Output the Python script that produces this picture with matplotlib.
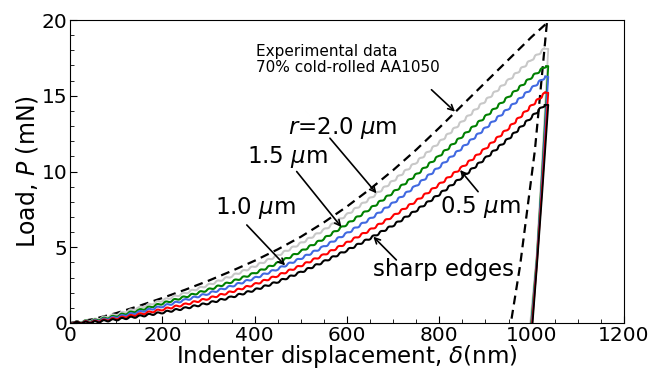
import numpy as np
import matplotlib
matplotlib.use("Agg")
import matplotlib.pyplot as plt
from matplotlib.ticker import MultipleLocator

# loading branch, displacement grid (nm)
delta_load = [0, 50, 100, 150, 200, 250, 300, 350, 400, 450, 500, 550,
              600, 650, 700, 750, 800, 850, 900, 950, 1000]

# load values (mN), last point is the peak
exp_load = [0, 0.25, 0.65, 1.13, 1.65, 2.2, 2.79, 3.43, 4.11, 4.86, 5.69, 6.64,
            7.69, 8.84, 10.09, 11.44, 12.89, 14.39, 15.89, 17.39, 18.89, 19.8]
r20_load = [0, 0.2, 0.57, 1.0, 1.49, 1.98, 2.51, 3.1, 3.74, 4.46, 5.26, 6.14,
            7.15, 8.22, 9.38, 10.61, 11.93, 13.31, 14.68, 16.03, 17.39, 18.1]
r15_load = [0, 0.15, 0.46, 0.84, 1.29, 1.73, 2.2, 2.72, 3.29, 3.96, 4.72, 5.57,
            6.53, 7.54, 8.62, 9.79, 11.04, 12.34, 13.63, 14.93, 16.24, 16.96]
r10_load = [0, 0.11, 0.38, 0.72, 1.1, 1.52, 1.95, 2.43, 2.96, 3.57, 4.26, 5.04,
            5.92, 6.87, 7.92, 9.07, 10.31, 11.58, 12.87, 14.17, 15.49, 16.26]
r05_load = [0, 0.08, 0.29, 0.57, 0.89, 1.23, 1.62, 2.06, 2.55, 3.13, 3.78, 4.5,
            5.3, 6.14, 7.06, 8.06, 9.15, 10.29, 11.52, 12.87, 14.35, 15.2]
sharp_load = [0, 0.05, 0.22, 0.44, 0.69, 0.98, 1.31, 1.71, 2.18, 2.72, 3.35, 4.05,
              4.8, 5.59, 6.45, 7.43, 8.5, 9.64, 10.88, 12.17, 13.6, 14.4]
peak_delta = [1033, 1028, 1031, 1030, 1030, 1028]

# unloading branches
exp_unload_d = [1033, 1007, 975, 955]
exp_unload_p = [19.8, 11.4, 3.8, 0]
sim_unload_frac = [1.0, 0.6, 0.25, 0.0]
sim_unload_top = 1036
sim_unload_mid = [1023, 1011]
sim_unload_end = [997, 999, 1000, 1001, 1002]

sim_colors = ['#c8c8c8', 'green', 'royalblue', 'red', 'black']
sim_loads = [r20_load, r15_load, r10_load, r05_load, sharp_load]

fig = plt.figure(figsize=(6.51, 3.74), dpi=100)
ax = fig.add_axes([0.1075, 0.1364, 0.851, 0.81])

# experimental data
ax.plot(delta_load + [peak_delta[0]], exp_load, 'k--', lw=1.6, dashes=(4, 2.5))
ax.plot(exp_unload_d, exp_unload_p, 'k--', lw=1.6, dashes=(4, 2.5))

# simulations
for i, (load, col) in enumerate(zip(sim_loads, sim_colors)):
    d = delta_load + [peak_delta[i + 1]]
    ln, = ax.plot(d, load, color=col, lw=1.5)
    ln.set_sketch_params(scale=0.9, length=9, randomness=1)
    pk = load[-1]
    ud = [d[-1], sim_unload_top] + sim_unload_mid + [sim_unload_end[i]]
    up = [pk, pk] + [pk * f for f in sim_unload_frac[1:]]
    ax.plot(ud, up, color=col, lw=1.3)

arrow = dict(arrowstyle='->', color='k', lw=1.2, shrinkA=0, shrinkB=0)
fs = 16.5

ax.text(404, 17.4, 'Experimental data\n70% cold-rolled AA1050', fontsize=11,
        ha='left', va='center', linespacing=1.05)
ax.annotate('', xy=(834, 13.95), xytext=(783, 15.4), arrowprops=arrow)

ax.text(591, 12.9, r'$r$=2.0 $\mu$m', fontsize=fs, ha='center', va='center')
ax.annotate('', xy=(664, 8.56), xytext=(563, 12.2), arrowprops=arrow)

ax.text(470, 10.95, r'1.5 $\mu$m', fontsize=fs, ha='center', va='center')
ax.annotate('', xy=(588, 6.33), xytext=(491, 10.0), arrowprops=arrow)

ax.text(401, 7.6, r'1.0 $\mu$m', fontsize=fs, ha='center', va='center')
ax.annotate('', xy=(466, 3.8), xytext=(383, 6.47), arrowprops=arrow)

ax.text(888, 7.65, r'0.5 $\mu$m', fontsize=fs, ha='center', va='center')
ax.annotate('', xy=(845, 10.1), xytext=(884, 8.67), arrowprops=arrow)

ax.text(810, 3.5, 'sharp edges', fontsize=fs, ha='center', va='center')
ax.annotate('', xy=(657, 5.7), xytext=(707, 4.16), arrowprops=arrow)

ax.set_xlim(0, 1200)
ax.set_ylim(0, 20)
ax.xaxis.set_major_locator(MultipleLocator(200))
ax.xaxis.set_minor_locator(MultipleLocator(50))
ax.yaxis.set_major_locator(MultipleLocator(5))
ax.yaxis.set_minor_locator(MultipleLocator(1))
ax.tick_params(which='both', direction='in', labelsize=14.5, pad=2)
ax.tick_params(which='major', length=5)
ax.tick_params(which='minor', length=3)
ax.set_xlabel(r'Indenter displacement, $\delta$(nm)', fontsize=16.5, labelpad=-1)
ax.set_ylabel(r'Load, $P$ (mN)', fontsize=17, labelpad=1)

fig.savefig('out.png', dpi=100)
